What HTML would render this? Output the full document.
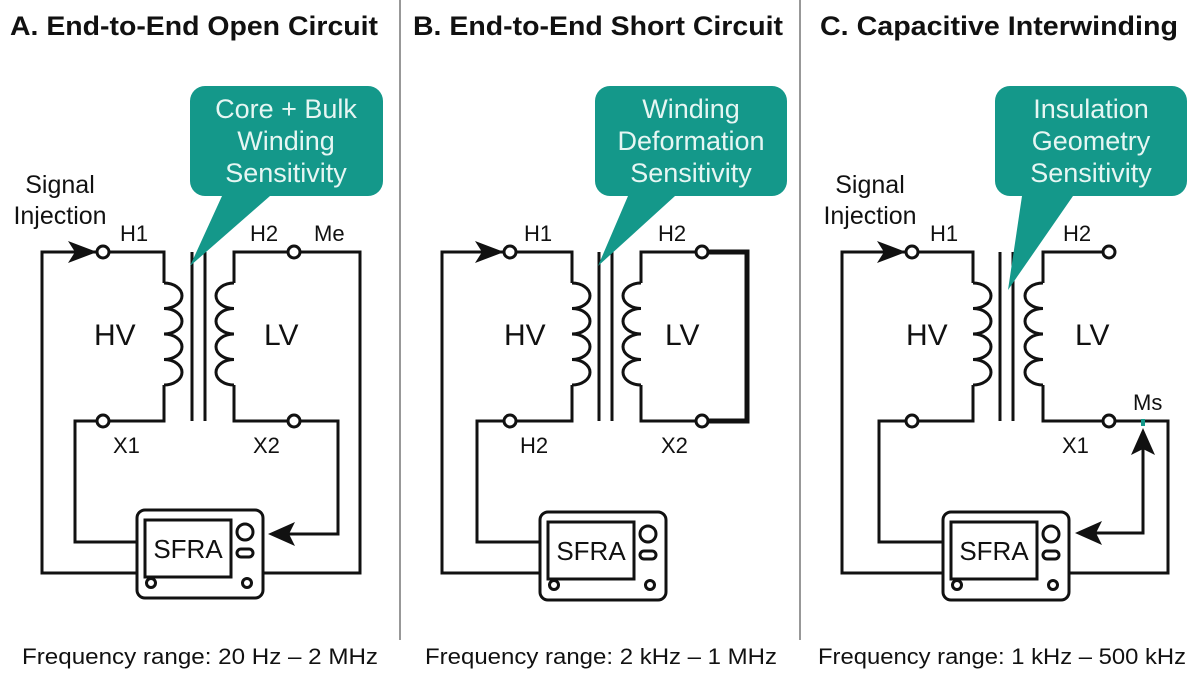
<!DOCTYPE html>
<html><head><style>body{margin:0;background:#fff}svg{display:block}</style></head><body>
<svg width="1200" height="675" viewBox="0 0 1200 675" xmlns="http://www.w3.org/2000/svg" font-family="Liberation Sans, Arial, sans-serif">
<defs>
<g id="coilR"><path d="M0 0 a18 12.75 0 0 1 0 25.5 a18 12.75 0 0 1 0 25.5 a18 12.75 0 0 1 0 25.5 a18 12.75 0 0 1 0 25.5" fill="none" stroke="#111" stroke-width="3"/></g>
<g id="coilL"><path d="M0 0 a18 12.75 0 0 0 0 25.5 a18 12.75 0 0 0 0 25.5 a18 12.75 0 0 0 0 25.5 a18 12.75 0 0 0 0 25.5" fill="none" stroke="#111" stroke-width="3"/></g>
<g id="box">
<rect x="0" y="0" width="126" height="88" rx="8" fill="#fff" stroke="#111" stroke-width="3"/>
<rect x="8" y="10" width="86" height="57" fill="#fff" stroke="#111" stroke-width="3"/>
<text x="51" y="48" font-size="26" text-anchor="middle" fill="#111">SFRA</text>
<circle cx="108" cy="22" r="8" fill="none" stroke="#111" stroke-width="3"/>
<rect x="100" y="39" width="16" height="8" rx="4" fill="none" stroke="#111" stroke-width="3"/>
<circle cx="14" cy="73" r="4.5" fill="none" stroke="#111" stroke-width="3"/>
<circle cx="110" cy="73" r="4.5" fill="none" stroke="#111" stroke-width="3"/>
</g>
</defs>
<line x1="400" y1="0" x2="400" y2="640" stroke="#777" stroke-width="1.5"/>
<line x1="800" y1="0" x2="800" y2="640" stroke="#777" stroke-width="1.5"/>
<g font-weight="bold" font-size="27" fill="#111">
<text x="10" y="35" textLength="368" lengthAdjust="spacingAndGlyphs">A. End-to-End Open Circuit</text>
<text x="413" y="35" textLength="370" lengthAdjust="spacingAndGlyphs">B. End-to-End Short Circuit</text>
<text x="820" y="35" textLength="358" lengthAdjust="spacingAndGlyphs">C. Capacitive Interwinding</text>
</g>
<g font-size="22" fill="#111">
<text x="22" y="664" textLength="356" lengthAdjust="spacingAndGlyphs">Frequency range: 20 Hz – 2 MHz</text>
<text x="425" y="664" textLength="352" lengthAdjust="spacingAndGlyphs">Frequency range: 2 kHz – 1 MHz</text>
<text x="818" y="664" textLength="368" lengthAdjust="spacingAndGlyphs">Frequency range: 1 kHz – 500 kHz</text>
</g>

<!-- Panel A -->
<g fill="none" stroke="#111" stroke-width="3">
<path d="M137 573 H42 V252 H97"/>
<path d="M109 252 H164 V283 M164 385 V421 H109 M97 421 H75 V542 H137"/>
<path d="M192 252 V421 M205 252 V421"/>
<path d="M300 252 H234 V283 M234 385 V421 H300"/>
<path d="M300 252 H360 V573 H263"/>
<path d="M300 421 H338 V534 H285"/>
</g>
<use href="#coilR" x="164" y="283"/><use href="#coilL" x="234" y="283"/>
<circle cx="103" cy="252" r="6" fill="#fff" stroke="#111" stroke-width="3"/>
<circle cx="103" cy="421" r="6" fill="#fff" stroke="#111" stroke-width="3"/>
<circle cx="294" cy="252" r="6" fill="#fff" stroke="#111" stroke-width="3"/>
<circle cx="294" cy="421" r="6" fill="#fff" stroke="#111" stroke-width="3"/>
<path d="M97 252 L68 241 L75 252 L68 263 Z" fill="#111"/>
<path d="M268 534 L295 522 L289 534 L295 546 Z" fill="#111"/>
<use href="#box" x="137" y="510"/>
<g fill="#111">
<text x="60" y="193" font-size="25" text-anchor="middle">Signal</text>
<text x="60" y="224" font-size="25" text-anchor="middle">Injection</text>
<text x="120" y="241" font-size="22">H1</text>
<text x="250" y="241" font-size="22">H2</text>
<text x="314" y="241" font-size="22">Me</text>
<text x="94" y="345" font-size="30">HV</text>
<text x="264" y="345" font-size="30">LV</text>
<text x="113" y="453" font-size="22">X1</text>
<text x="253" y="453" font-size="22">X2</text>
</g>
<path d="M205 86 H368 a15 15 0 0 1 15 15 V181 a15 15 0 0 1 -15 15 H270 L190 266 L222 196 H205 a15 15 0 0 1 -15 -15 V101 a15 15 0 0 1 15 -15Z" fill="#14988a"/>
<g fill="#e6f6f3" font-size="27" text-anchor="middle">
<text x="286" y="118">Core + Bulk</text><text x="286" y="150">Winding</text><text x="286" y="182">Sensitivity</text>
</g>

<!-- Panel B -->
<g fill="none" stroke="#111" stroke-width="3">
<path d="M540 573 H442 V252 H504"/>
<path d="M516 252 H572 V283 M572 385 V421 H516 M504 421 H477 V542 H540"/>
<path d="M599 252 V421 M612 252 V421"/>
<path d="M708 252 H641 V283 M641 385 V421 H708"/>
</g>
<path d="M708 252 H747 V421 H708" fill="none" stroke="#111" stroke-width="5"/>
<use href="#coilR" x="572" y="283"/><use href="#coilL" x="641" y="283"/>
<circle cx="510" cy="252" r="6" fill="#fff" stroke="#111" stroke-width="3"/>
<circle cx="510" cy="421" r="6" fill="#fff" stroke="#111" stroke-width="3"/>
<circle cx="702" cy="252" r="6" fill="#fff" stroke="#111" stroke-width="3"/>
<circle cx="702" cy="421" r="6" fill="#fff" stroke="#111" stroke-width="3"/>
<path d="M504 252 L475 241 L482 252 L475 263 Z" fill="#111"/>
<use href="#box" x="540" y="512"/>
<g fill="#111">
<text x="524" y="241" font-size="22">H1</text>
<text x="658" y="241" font-size="22">H2</text>
<text x="504" y="345" font-size="30">HV</text>
<text x="665" y="345" font-size="30">LV</text>
<text x="520" y="453" font-size="22">H2</text>
<text x="661" y="453" font-size="22">X2</text>
</g>
<path d="M610 86 H772 a15 15 0 0 1 15 15 V181 a15 15 0 0 1 -15 15 H675 L598 266 L628 196 H610 a15 15 0 0 1 -15 -15 V101 a15 15 0 0 1 15 -15Z" fill="#14988a"/>
<g fill="#e6f6f3" font-size="27" text-anchor="middle">
<text x="691" y="118">Winding</text><text x="691" y="150">Deformation</text><text x="691" y="182">Sensitivity</text>
</g>

<!-- Panel C -->
<g fill="none" stroke="#111" stroke-width="3">
<path d="M943 573 H842 V252 H906"/>
<path d="M918 252 H973 V283 M973 385 V421 H918 M906 421 H879 V542 H943"/>
<path d="M1000 252 V421 M1013 252 V421"/>
<path d="M1103 252 H1043 V283 M1043 385 V421 H1103"/>
<path d="M1115 421 H1168 V573 H1069"/>
<path d="M1143 440 V533 H1090"/>
</g>
<use href="#coilR" x="973" y="283"/><use href="#coilL" x="1043" y="283"/>
<circle cx="912" cy="252" r="6" fill="#fff" stroke="#111" stroke-width="3"/>
<circle cx="912" cy="421" r="6" fill="#fff" stroke="#111" stroke-width="3"/>
<circle cx="1109" cy="252" r="6" fill="#fff" stroke="#111" stroke-width="3"/>
<circle cx="1109" cy="421" r="6" fill="#fff" stroke="#111" stroke-width="3"/>
<path d="M906 252 L877 241 L884 252 L877 263 Z" fill="#111"/>
<path d="M1075 533 L1102 521 L1096 533 L1102 545 Z" fill="#111"/>
<path d="M1143 428 L1131 455 L1143 449 L1155 455 Z" fill="#111"/>
<rect x="1141" y="419" width="4" height="7" fill="#14988a"/>
<use href="#box" x="943" y="512"/>
<g fill="#111">
<text x="870" y="193" font-size="25" text-anchor="middle">Signal</text>
<text x="870" y="224" font-size="25" text-anchor="middle">Injection</text>
<text x="930" y="241" font-size="22">H1</text>
<text x="1063" y="241" font-size="22">H2</text>
<text x="906" y="345" font-size="30">HV</text>
<text x="1075" y="345" font-size="30">LV</text>
<text x="1062" y="453" font-size="22">X1</text>
<text x="1133" y="410" font-size="22">Ms</text>
</g>
<path d="M1010 86 H1172 a15 15 0 0 1 15 15 V181 a15 15 0 0 1 -15 15 H1073 L1008 290 L1022 196 H1010 a15 15 0 0 1 -15 -15 V101 a15 15 0 0 1 15 -15Z" fill="#14988a"/>
<g fill="#e6f6f3" font-size="27" text-anchor="middle">
<text x="1091" y="118">Insulation</text><text x="1091" y="150">Geometry</text><text x="1091" y="182">Sensitivity</text>
</g>
</svg>
</body></html>
